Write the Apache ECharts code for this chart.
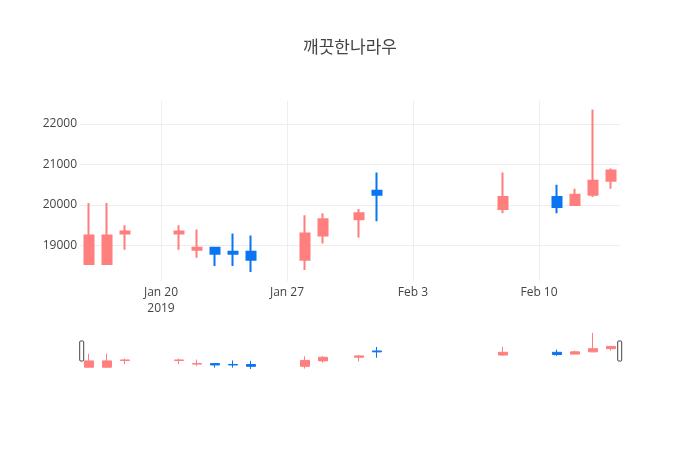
<!DOCTYPE html>
<html>
<head>
<meta charset="utf-8">
<script src="https://cdn.jsdelivr.net/npm/echarts@6/dist/echarts.min.js"></script>
<style>
html,body{margin:0;padding:0;background:#fff;}
#chart{width:700px;height:450px;}
</style>
</head>
<body>
<div id="chart"></div>
<script>
const titleText = '깨끗한나라우';
const dates  = ['2019-01-16','2019-01-17','2019-01-18','2019-01-21','2019-01-22','2019-01-23','2019-01-24','2019-01-25','2019-01-28','2019-01-29','2019-01-31','2019-02-01','2019-02-08','2019-02-11','2019-02-12','2019-02-13','2019-02-14'];
const opens  = [18550,18550,19300,19300,18900,18950,18850,18850,18650,19250,19650,20350,19900,20200,20000,20250,20600];
const closes = [19250,19250,19350,19350,18950,18800,18800,18650,19300,19650,19800,20250,20200,19950,20250,20600,20850];
const lows   = [18550,18550,18900,18900,18700,18500,18500,18350,18400,19050,19200,19600,19800,19800,20000,20200,20400];
const highs  = [20050,20050,19500,19500,19400,18950,19300,19250,19750,19800,19900,20800,20800,20500,20400,22350,20900];
const xTickDates  = ['2019-01-20','2019-01-27','2019-02-03','2019-02-10'];
const xTickLabels = ['Jan 20\n2019','Jan 27','Feb 3','Feb 10'];
const yTicks = [19000,20000,21000,22000];

const DAY = 86400000;
const toMs = d => Date.parse(d + 'T00:00:00Z');
const xMin = toMs('2019-01-15') + DAY / 2;
const xMax = toMs('2019-02-14') + DAY / 2;
const yMin = 18130, yMax = 22560;

const candleData = dates.map((d, i) => [toMs(d), opens[i], closes[i], lows[i], highs[i]]);
const tickMs = xTickDates.map(toMs);

const UP = '#FF7F7F', DOWN = '#0A74F2';

const chart = echarts.init(document.getElementById('chart'), null, {renderer: 'canvas'});
chart.setOption({
  animation: false,
  backgroundColor: '#fff',
  title: {
    text: titleText, left: 'center', top: 33,
    textStyle: {fontFamily: '"Noto Sans CJK KR", "Open Sans", sans-serif', fontSize: 17, fontWeight: 'normal', color: '#444'}
  },
  grid: [
    {left: 80, width: 540, top: 101, height: 180},
    {left: 80, width: 540, top: 331, height: 40}
  ],
  xAxis: [
    {
      type: 'value', gridIndex: 0, min: xMin, max: xMax,
      axisLine: {show: false},
      axisTick: {show: false, customValues: tickMs},
      splitLine: {show: true, lineStyle: {color: '#eee', width: 1}},
      axisLabel: {
        customValues: tickMs, margin: 4, color: '#444', fontSize: 12, lineHeight: 16,
        fontFamily: '"Open Sans", sans-serif',
        formatter: v => { const k = tickMs.indexOf(v); return k >= 0 ? xTickLabels[k] : ''; }
      }
    },
    {
      type: 'value', gridIndex: 1, min: xMin, max: xMax, show: false
    }
  ],
  yAxis: [
    {
      type: 'value', gridIndex: 0, min: yMin, max: yMax,
      axisLine: {show: false},
      axisTick: {show: false, customValues: yTicks},
      splitLine: {show: true, lineStyle: {color: '#eee', width: 1}},
      axisLabel: {
        customValues: yTicks, margin: 3, color: '#444', fontSize: 12, fontFamily: '"Open Sans", sans-serif',
        formatter: v => String(v)
      }
    },
    {
      type: 'value', gridIndex: 1, min: yMin, max: yMax, show: false
    }
  ],
  dataZoom: [{
    type: 'slider', xAxisIndex: 0, filterMode: 'none', start: 0, end: 100,
    left: 80, width: 540, top: 331, height: 40,
    showDataShadow: false, showDetail: false, brushSelect: false,
    moveHandleSize: 0, zoomLock: true,
    backgroundColor: 'rgba(0,0,0,0)', borderColor: 'rgba(0,0,0,0)', fillerColor: 'rgba(0,0,0,0)',
    handleIcon: 'path://M1,0 L3,0 A1,1 0 0 1 4,1 L4,19 A1,1 0 0 1 3,20 L1,20 A1,1 0 0 1 0,19 L0,1 A1,1 0 0 1 1,0 Z',
    handleSize: '50%',
    handleStyle: {color: '#fff', borderColor: '#444', borderWidth: 1},
    emphasis: {handleStyle: {color: '#fff', borderColor: '#444'}},
    dataBackground: {lineStyle: {opacity: 0}, areaStyle: {opacity: 0}}
  }],
  series: [
    {
      type: 'candlestick', xAxisIndex: 0, yAxisIndex: 0,
      data: candleData, barWidth: 9,
      itemStyle: {color: UP, color0: DOWN, borderColor: UP, borderColor0: DOWN, borderWidth: 2}
    },
    {
      type: 'candlestick', xAxisIndex: 1, yAxisIndex: 1,
      data: candleData, barWidth: 9,
      itemStyle: {color: UP, color0: DOWN, borderColor: UP, borderColor0: DOWN, borderWidth: 1}
    }
  ]
});
</script>
</body>
</html>
